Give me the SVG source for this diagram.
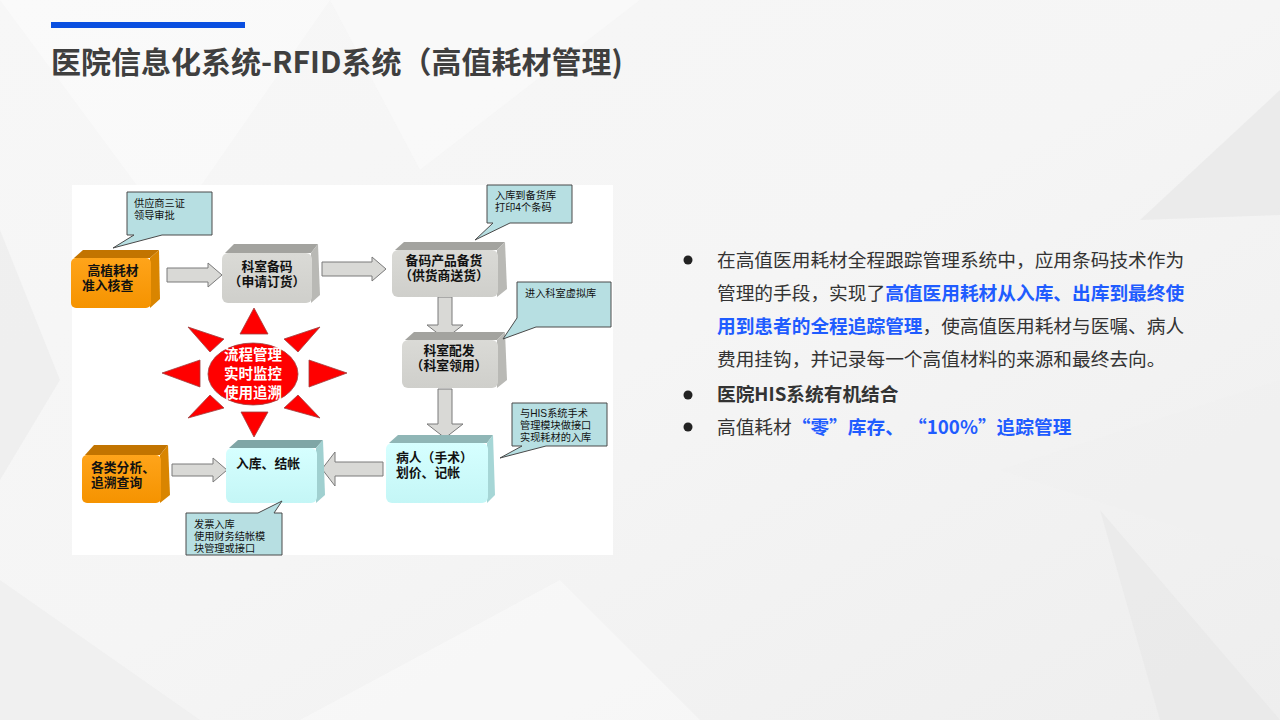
<svg xmlns="http://www.w3.org/2000/svg" width="1280" height="720" viewBox="0 0 1280 720">
<defs>
<style>
.cjk{font-family:"Noto Sans CJK SC","Microsoft YaHei",sans-serif}
.nt{font-family:"Liberation Sans","Noto Sans CJK SC",sans-serif;font-size:12.8px;font-weight:700;fill:#111}
.ct{font-family:"Liberation Sans","Noto Sans CJK SC",sans-serif;font-size:10.2px;fill:#111}
.st{font-family:"Noto Sans CJK SC",sans-serif;font-size:14.5px;font-weight:700;fill:#fff}
.call{fill:#b7dfe2;stroke:#4a4a4a;stroke-width:1}
.arr{fill:#d9d9d6;stroke:#7a7a7a;stroke-width:1}
.ray{fill:#ff0000;stroke:#a04040;stroke-width:0.8}
.body{font-family:"Noto Sans CJK SC",sans-serif;font-size:18.7px;fill:#333}
.blue{fill:#1f5cff;font-weight:700}
.b{font-weight:700}
</style>
<linearGradient id="bg" x1="0" y1="0" x2="1" y2="1">
<stop offset="0" stop-color="#f7f7f7"/>
<stop offset="0.5" stop-color="#f5f5f5"/>
<stop offset="1" stop-color="#eeeeee"/>
</linearGradient>
<linearGradient id="og" x1="0" y1="0" x2="0" y2="1">
<stop offset="0" stop-color="#ffa41a"/>
<stop offset="1" stop-color="#f59300"/>
</linearGradient>
<linearGradient id="gg" x1="0" y1="0" x2="0" y2="1">
<stop offset="0" stop-color="#dadad6"/>
<stop offset="1" stop-color="#cfcfcb"/>
</linearGradient>
<linearGradient id="cg" x1="0" y1="0" x2="0" y2="1">
<stop offset="0" stop-color="#d6ffff"/>
<stop offset="1" stop-color="#c4f6f6"/>
</linearGradient>
</defs>

<g id="background">
<rect width="1280" height="720" fill="url(#bg)"/>
<polygon points="0,0 330,0 170,230" fill="#ffffff" opacity="0.4"/>
<polygon points="330,0 640,0 420,170" fill="#fbfbfb" opacity="0.5"/>
<polygon points="0,230 60,380 0,480" fill="#ebebeb" opacity="0.6"/>
<polygon points="1280,90 1140,220 1280,215" fill="#e3e3e3" opacity="0.55"/>
<polygon points="1000,470 1280,380 1280,560" fill="#f0f0f0" opacity="0.6"/>
<polygon points="1100,510 1280,720 1160,720" fill="#e6e6e6" opacity="0.5"/>
<polygon points="0,580 200,720 0,720" fill="#ececec" opacity="0.6"/>
<polygon points="300,720 560,580 700,720" fill="#fafafa" opacity="0.6"/>
</g>

<g id="title">
<rect x="51" y="22" width="194" height="6" fill="#0a4fe0"/>
<text x="51" y="73" class="cjk" font-size="30" font-weight="700" fill="#3f3f3f">医院信息化系统-RFID系统（高值耗材管理)</text>
</g>

<g id="diagram">
<rect x="72" y="185" width="541" height="370" fill="#ffffff"/>

<g id="connectors">
<path class="arr" d="M167,268 H208 V263 L222,275 L208,287 V282 H167 Z"/>
<path class="arr" d="M322,262 H372 V257 L386,269 L372,281 V276 H322 Z"/>
<path class="arr" d="M438,297 V325 H427 L445,339 L463,325 H452 V297 Z"/>
<path class="arr" d="M438,389 V424 H427 L445,438 L463,424 H452 V389 Z"/>
<path class="arr" d="M383,462 H335 V452 L322,469 L335,486 V476 H383 Z"/>
<path class="arr" d="M172,464 H213 V458 L227,470 L213,482 V476 H172 Z"/>
</g>

<g id="node-zhunru">
<polygon points="74,258 83,250 159,250 150,258" fill="#c27400"/>
<polygon points="150,258 159,250 160,299 150,308" fill="#d98500"/>
<rect x="71" y="258" width="80" height="50" rx="5" fill="url(#og)"/>
<text x="113" y="275" class="nt" text-anchor="middle">高植耗材</text>
<text x="82" y="290" class="nt">准入核查</text>
</g>

<g id="node-beima">
<polygon points="225,253 234,244 318,244 311,253" fill="#a3a39f"/>
<polygon points="311,253 318,244 320,295 311,303" fill="#b9b9b5"/>
<rect x="222" y="253" width="90" height="50" rx="6" fill="url(#gg)"/>
<text x="267" y="271" class="nt" text-anchor="middle">科室备码</text>
<text x="267" y="286" class="nt" text-anchor="middle">（申请订货）</text>
</g>

<g id="node-beihuo">
<polygon points="395,250 404,242 505,242 497,250" fill="#a3a39f"/>
<polygon points="497,250 505,242 507,289 497,297" fill="#b9b9b5"/>
<rect x="392" y="250" width="106" height="47" rx="6" fill="url(#gg)"/>
<text x="444" y="265" class="nt" text-anchor="middle">备码产品备货</text>
<text x="444" y="280" class="nt" text-anchor="middle">（供货商送货）</text>
</g>

<g id="node-peifa">
<polygon points="405,340 414,332 505,332 497,340" fill="#a3a39f"/>
<polygon points="497,340 505,332 507,380 497,388" fill="#b9b9b5"/>
<rect x="402" y="340" width="96" height="48" rx="6" fill="url(#gg)"/>
<text x="449" y="355" class="nt" text-anchor="middle">科室配发</text>
<text x="449" y="370" class="nt" text-anchor="middle">（科室领用）</text>
</g>

<g id="node-bingren">
<polygon points="389,443 398,435 493,435 487,443" fill="#8fb6b6"/>
<polygon points="487,443 493,435 495,495 487,503" fill="#a6d6d6"/>
<rect x="386" y="443" width="102" height="60" rx="6" fill="url(#cg)"/>
<text x="396" y="462" class="nt">病人（手术）</text>
<text x="396" y="477" class="nt">划价、记帐</text>
</g>

<g id="node-ruku">
<polygon points="229,448 238,440 323,440 316,448" fill="#7fa6a6"/>
<polygon points="316,448 323,440 325,495 316,503" fill="#a0d0d0"/>
<rect x="226" y="448" width="91" height="55" rx="6" fill="url(#cg)"/>
<text x="236" y="468" class="nt">入库、结帐</text>
</g>

<g id="node-fenxi">
<polygon points="85,455 94,445 168,445 160,455" fill="#c27400"/>
<polygon points="160,455 168,445 170,495 160,503" fill="#d98500"/>
<rect x="82" y="455" width="79" height="48" rx="5" fill="url(#og)"/>
<text x="91" y="472" class="nt">各类分析、</text>
<text x="91" y="487" class="nt">追溯查询</text>
</g>

<g id="note-sanzheng">
<path class="call" d="M127,192 H212 V235 H162 L113,248 L134,235 H127 Z"/>
<text x="134" y="207" class="ct">供应商三证</text>
<text x="134" y="219" class="ct">领导审批</text>
</g>

<g id="note-beihuoku">
<path class="call" d="M487,185 H572 V223 H510 L475,240 L493,223 H487 Z"/>
<text x="495" y="199" class="ct">入库到备货库</text>
<text x="495" y="211" class="ct">打印4个条码</text>
</g>

<g id="note-xuniku">
<path class="call" d="M517,282 H611 V327 H536 L503,339 L517,318 Z"/>
<text x="525" y="297" class="ct">进入科室虚拟库</text>
</g>

<g id="note-his">
<path class="call" d="M512,403 H607 V446 H546 L500,458 L522,446 H512 Z"/>
<text x="520" y="417" class="ct">与HIS系统手术</text>
<text x="520" y="429" class="ct">管理模块做接口</text>
<text x="520" y="441" class="ct">实现耗材的入库</text>
</g>

<g id="note-fapiao">
<path class="call" d="M186,513 H258 L282,501 L274,513 H282 V555 H186 Z"/>
<text x="194" y="528" class="ct">发票入库</text>
<text x="194" y="540" class="ct">使用财务结帐模</text>
<text x="194" y="552" class="ct">块管理或接口</text>
</g>

<g id="sun">
<polygon class="ray" points="254,308 240,334 268,334"/>
<polygon class="ray" points="254,437 241,412 268,412"/>
<polygon class="ray" points="162,373 200,360 200,387"/>
<polygon class="ray" points="347,373 309,360 309,387"/>
<polygon class="ray" points="188,327 224,339 210,352"/>
<polygon class="ray" points="320,327 284,339 298,352"/>
<polygon class="ray" points="188,418 210,395 224,408"/>
<polygon class="ray" points="320,418 298,395 284,408"/>
<ellipse cx="253" cy="374" rx="45" ry="31" fill="#ff0000" stroke="#a04040" stroke-width="0.8"/>
<text x="253" y="360" class="st" text-anchor="middle">流程管理</text>
<text x="253" y="379" class="st" text-anchor="middle">实时监控</text>
<text x="253" y="398" class="st" text-anchor="middle">使用追溯</text>
</g>
</g>

<g id="bullets">
<circle cx="688" cy="260" r="4.5" fill="#222"/>
<circle cx="688" cy="395" r="4.5" fill="#222"/>
<circle cx="688" cy="427" r="4.5" fill="#222"/>
<text x="717" y="267" class="body">在高值医用耗材全程跟踪管理系统中，应用条码技术作为</text>
<text x="717" y="300" class="body">管理的手段，实现了<tspan class="blue">高值医用耗材从入库、出库到最终使</tspan></text>
<text x="717" y="333" class="body"><tspan class="blue">用到患者的全程追踪管理</tspan>，使高值医用耗材与医嘱、病人</text>
<text x="717" y="366" class="body">费用挂钩，并记录每一个高值材料的来源和最终去向。</text>
<text x="717" y="401" class="body b">医院HIS系统有机结合</text>
<text x="717" y="434" class="body">高值耗材<tspan class="blue">“零”库存、 “100%”追踪管理</tspan></text>
</g>
</svg>
